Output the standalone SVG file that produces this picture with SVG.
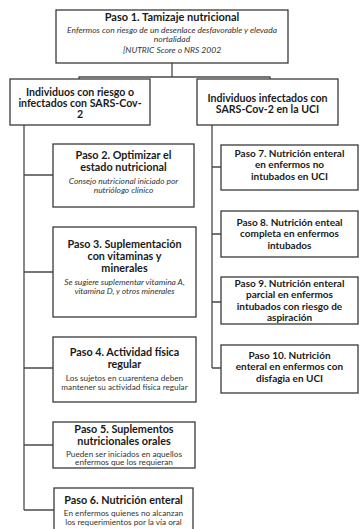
<svg xmlns="http://www.w3.org/2000/svg" width="359" height="529" viewBox="0 0 359 529">
<style>
.box{fill:#fff;stroke:#3a3a3a;stroke-width:1.3}
.ln{fill:none;stroke:#4a4a4a;stroke-width:1.3}
text{font-family:Lato,"Open Sans","Liberation Sans",sans-serif;text-anchor:middle;fill:#1a1a1a}
.t{font-weight:bold;font-size:10px}
.tl{font-weight:bold;font-size:10.8px}
.h{font-weight:bold;font-size:10.6px}
.p1{font-weight:bold;font-size:11px}
.i{font-style:italic;font-size:8.4px;fill:#333}
.it{font-style:italic;font-size:8.5px;fill:#333}
.n{font-size:8.2px;fill:#333}
</style>
<rect width="359" height="529" fill="#fff"/>
<g id="connectors">
<path class="ln" d="M172,63 V77 M79,79 V77 H270 V79"/>
<path class="ln" d="M24,125 V510 M24,175 H53 M24,272 H53 M24,368 H53 M24,445 H53 M24,510 H54"/>
<path class="ln" d="M212,125 V368 M212,167 H221 M212,234 H221 M212,302 H221 M212,368 H221"/>
</g>
<g id="paso1">
<rect class="box" x="56" y="10" width="232" height="53"/>
<text class="p1" x="172" y="21">Paso 1. Tamizaje nutricional</text>
<text class="it" x="172" y="33">Enfermos con riesgo de un desenlace desfavorable y elevada</text>
<text class="it" x="172" y="42">nortalidad</text>
<text class="it" x="172" y="53">[NUTRIC Score o NRS 2002</text>
</g>
<g id="grupo-riesgo">
<rect class="box" x="10" y="79" width="140" height="46"/>
<text class="h" x="80" y="96">Individuos con riesgo o</text>
<text class="h" x="80" y="107">infectados con SARS-Cov-</text>
<text class="h" x="80" y="118">2</text>
</g>
<g id="grupo-uci">
<rect class="box" x="197" y="79" width="141" height="46"/>
<text class="h" x="267.5" y="102">Individuos infectados con</text>
<text class="h" x="267.5" y="113">SARS-Cov-2 en la UCI</text>
</g>
<g id="paso2">
<rect class="box" x="53" y="144" width="141" height="63"/>
<text class="tl" x="123.5" y="159">Paso 2. Optimizar el</text>
<text class="tl" x="123.5" y="171">estado nutricional</text>
<text class="i" x="123.5" y="184">Consejo nutricional iniciado por</text>
<text class="i" x="123.5" y="193">nutriólogo clínico</text>
</g>
<g id="paso3">
<rect class="box" x="53" y="227" width="143" height="90"/>
<text class="tl" x="124.5" y="248">Paso 3. Suplementación</text>
<text class="tl" x="124.5" y="260">con vitaminas y</text>
<text class="tl" x="124.5" y="272">minerales</text>
<text class="i" x="124.5" y="285">Se sugiere suplementar vitamina A,</text>
<text class="i" x="124.5" y="294">vitamina D, y otros minerales</text>
</g>
<g id="paso4">
<rect class="box" x="53" y="337" width="143" height="65"/>
<text class="tl" x="124.5" y="356">Paso 4. Actividad física</text>
<text class="tl" x="124.5" y="368">regular</text>
<text class="n" x="124.5" y="381">Los sujetos en cuarentena deben</text>
<text class="n" x="124.5" y="390">mantener su actividad física regular</text>
</g>
<g id="paso5">
<rect class="box" x="53" y="422" width="142" height="46"/>
<text class="tl" x="124" y="433">Paso 5. Suplementos</text>
<text class="tl" x="124" y="445">nutricionales orales</text>
<text class="n" x="124" y="456.5">Pueden ser iniciados en aquellos</text>
<text class="n" x="124" y="465">enfermos que los requieran</text>
</g>
<g id="paso6">
<rect class="box" x="54" y="488" width="139" height="45"/>
<text class="tl" x="123.5" y="504">Paso 6. Nutrición enteral</text>
<text class="n" x="123.5" y="516">En enfermos quienes no alcanzan</text>
<text class="n" x="123.5" y="525">los requerimientos por la vía oral</text>
</g>
<g id="paso7">
<rect class="box" x="221" y="145" width="137" height="45"/>
<text class="t" x="289.5" y="157">Paso 7. Nutrición enteral</text>
<text class="t" x="289.5" y="168">en enfermos no</text>
<text class="t" x="289.5" y="180">intubados en UCI</text>
</g>
<g id="paso8">
<rect class="box" x="221" y="211" width="137" height="46"/>
<text class="t" x="289.5" y="226">Paso 8. Nutrición enteal</text>
<text class="t" x="289.5" y="237">completa en enfermos</text>
<text class="t" x="289.5" y="249">intubados</text>
</g>
<g id="paso9">
<rect class="box" x="221" y="277" width="137" height="47"/>
<text class="t" x="289.5" y="287">Paso 9. Nutrición enteral</text>
<text class="t" x="289.5" y="298">parcial en enfermos</text>
<text class="t" x="289.5" y="310">intubados con riesgo de</text>
<text class="t" x="289.5" y="321">aspiración</text>
</g>
<g id="paso10">
<rect class="box" x="221" y="345" width="137" height="48"/>
<text class="t" x="289.5" y="359">Paso 10. Nutrición</text>
<text class="t" x="289.5" y="370">enteral en enfermos con</text>
<text class="t" x="289.5" y="382">disfagia en UCI</text>
</g>
</svg>
